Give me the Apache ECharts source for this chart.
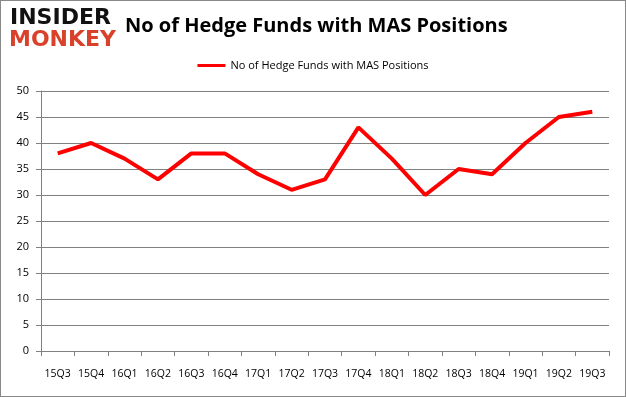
<!DOCTYPE html>
<html><head><meta charset="utf-8">
<script src="https://cdn.jsdelivr.net/npm/echarts@6/dist/echarts.min.js"></script>
<style>html,body{margin:0;padding:0;background:#fff}#c{width:626px;height:397px;box-sizing:border-box;border:1px solid #888}</style>
</head><body><div id="c"></div>
<script>
const categories = ['15Q3','15Q4','16Q1','16Q2','16Q3','16Q4','17Q1','17Q2','17Q3','17Q4','18Q1','18Q2','18Q3','18Q4','19Q1','19Q2','19Q3'];
const values = [38,40,37,33,38,38,34,31,33,43,37,30,35,34,40,45,46];
const seriesName = 'No of Hedge Funds with MAS Positions';
const titleText = 'No of Hedge Funds with MAS Positions';

const chart = echarts.init(document.getElementById('c'), null, {renderer:'canvas'});
chart.setOption({
  animation:false,
  title:{text:titleText,left:119,top:10,textStyle:{fontFamily:'Open Sans',fontWeight:'bold',fontSize:20,color:'#000'}},
  legend:{top:54,left:'center',itemWidth:28,itemHeight:3,icon:'rect',textStyle:{fontFamily:'Open Sans',fontSize:11,color:'#000'},data:[seriesName]},
  grid:{left:40,right:16,top:90,bottom:45},
  xAxis:{type:'category',data:categories,boundaryGap:true,
    axisLine:{lineStyle:{color:'#808080'}},axisTick:{show:true,length:5,interval:0,lineStyle:{color:'#808080'}},
    axisLabel:{interval:0,margin:18,fontFamily:'Open Sans',fontSize:10.5,color:'#000'}},
  yAxis:{type:'value',min:0,max:50,interval:5,
    axisLine:{show:true,lineStyle:{color:'#808080'}},axisTick:{show:true,length:5,lineStyle:{color:'#808080'}},
    splitLine:{lineStyle:{color:'#808080'}},
    axisLabel:{margin:12,fontFamily:'Open Sans',fontSize:11,color:'#000'}},
  series:[{name:seriesName,type:'line',data:values,symbol:'none',lineStyle:{color:'#ff0000',width:4},itemStyle:{color:'#ff0000'}}],
  graphic:[
    {type:'text',left:9,top:6,style:{text:'INSIDER',fontFamily:'DejaVu Sans',fontWeight:'bold',fontSize:22,fill:'#111'}},
    {type:'text',left:8,top:28,style:{text:'MONKEY',fontFamily:'DejaVu Sans',fontWeight:'bold',fontSize:22,fill:'#d9412b'}}
  ]
});
</script></body></html>
